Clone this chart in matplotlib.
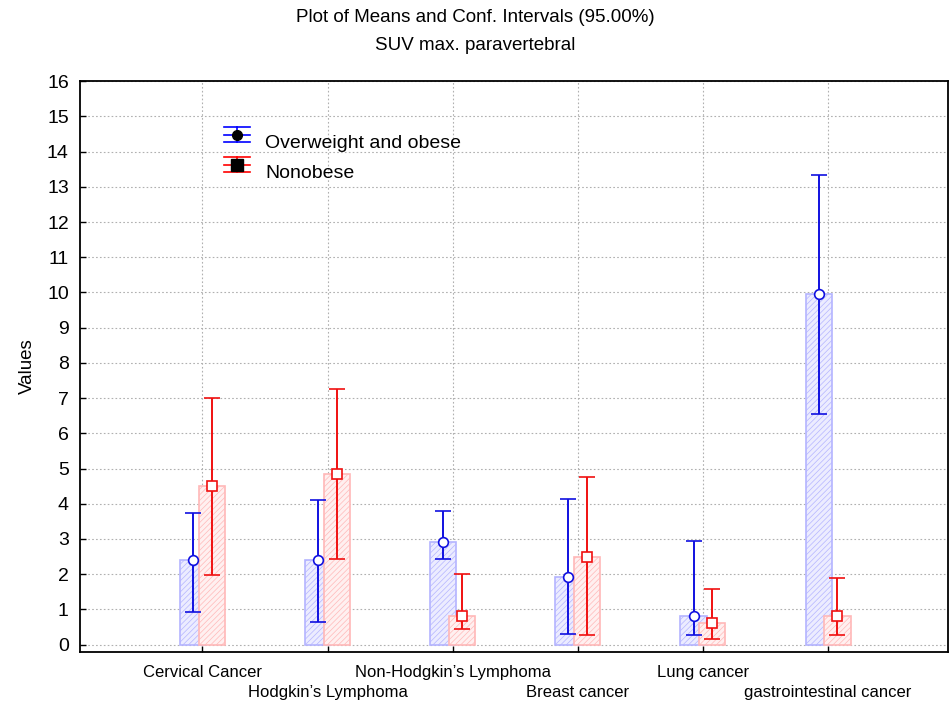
import matplotlib
matplotlib.use("Agg")
import matplotlib.pyplot as plt
from matplotlib.lines import Line2D
import numpy as np

plt.rcParams['font.family'] = ['Liberation Sans', 'DejaVu Sans']
plt.rcParams['hatch.linewidth'] = 0.5

categories = ["Cervical Cancer", "Hodgkin\u2019s Lymphoma", "Non-Hodgkin\u2019s Lymphoma",
              "Breast cancer", "Lung cancer", "gastrointestinal cancer"]
series = ["Overweight and obese", "Nonobese"]

obese_mean = [2.40, 2.40, 2.92, 1.92, 0.82, 9.95]
obese_lo = [0.93, 0.65, 2.42, 0.30, 0.28, 6.55]
obese_hi = [3.73, 4.10, 3.80, 4.13, 2.93, 13.35]

nonob_mean = [4.50, 4.85, 0.80, 2.50, 0.60, 0.82]
nonob_lo = [1.97, 2.42, 0.45, 0.28, 0.15, 0.28]
nonob_hi = [7.00, 7.27, 2.00, 4.75, 1.58, 1.90]

W, H = 951, 706
x = np.arange(1, len(categories) + 1)
off = 0.075
w = 0.21

fig = plt.figure(figsize=(W / 100, H / 100), dpi=100)
ax = fig.add_axes([0.084, 0.077, 0.913, 0.808])

# shaded bars behind the means
ax.bar(x - off, obese_mean, width=w, bottom=0, facecolor='#ececff',
       edgecolor='#b4b4ff', hatch='//////', linewidth=1.2, zorder=2)
ax.bar(x + off, nonob_mean, width=w, bottom=0, facecolor='#fff0f0',
       edgecolor='#ffb8b8', hatch='//////', linewidth=1.2, zorder=3)

def draw_ci(xs, m, lo, hi, color, marker, ms, cap):
    m = np.array(m)
    err = [m - np.array(lo), np.array(hi) - m]
    ax.errorbar(xs, m, yerr=err, fmt=marker, color=color, ecolor=color,
                mfc='white', mec=color, ms=ms, mew=1.2, elinewidth=1.4,
                capsize=cap, capthick=1.4, zorder=5)

draw_ci(x - off, obese_mean, obese_lo, obese_hi, '#1010e0', 'o', 7, 5.5)
draw_ci(x + off, nonob_mean, nonob_lo, nonob_hi, '#f01010', 's', 7.5, 6)

ax.set_xlim(0.02, 6.96)
ax.set_ylim(-0.2, 16)
ax.set_yticks(range(0, 17))
ax.set_xticks(x)
ax.set_xticklabels([])
ax.tick_params(axis='both', direction='in', length=4, width=1, labelsize=14)
ax.tick_params(axis='y', pad=8)
ax.grid(True, color='#b0b0b0', linestyle=(0, (1.5, 2.0)), linewidth=0.8, zorder=0)
ax.set_axisbelow(True)
for s in ax.spines.values():
    s.set_linewidth(1.3)
    s.set_color('black')

# staggered category labels in two rows
for i, (xi, lab) in enumerate(zip(x, categories)):
    yoff = -0.036 if i % 2 == 0 else -0.071
    ax.text(xi, yoff, lab, transform=ax.get_xaxis_transform(), ha='center',
            va='center', fontsize=12)

ax.set_ylabel("Values", fontsize=13.5, labelpad=8)

fig.text(0.5, 1 - 18 / H, "Plot of Means and Conf. Intervals (95.00%)",
         ha='center', va='center', fontsize=13.5)
fig.text(0.5, 1 - 46 / H, "SUV max. paravertebral", ha='center', va='center',
         fontsize=13.5)

# legend: error bar glyph (three bars + whisker) with a filled black marker
def legend_entry(py, color, marker, ms, label):
    fx = lambda v: v / W
    fy = lambda v: 1 - v / H
    for dy in (-8, 0, 7):
        fig.add_artist(Line2D([fx(224), fx(250)], [fy(py + dy)] * 2,
                              color=color, lw=1.2, transform=fig.transFigure))
    fig.add_artist(Line2D([fx(237)] * 2, [fy(py - 8), fy(py + 7)], color=color,
                          lw=1.2, transform=fig.transFigure))
    fig.add_artist(Line2D([fx(237)], [fy(py)], marker=marker, ms=ms, color='black',
                          transform=fig.transFigure))
    fig.text(fx(265), fy(py + 9), label, ha='left', va='center', fontsize=14)

legend_entry(135, 'blue', 'o', 7, series[0])
legend_entry(165, 'red', 's', 8, series[1])

fig.savefig("out.png", dpi=100)
